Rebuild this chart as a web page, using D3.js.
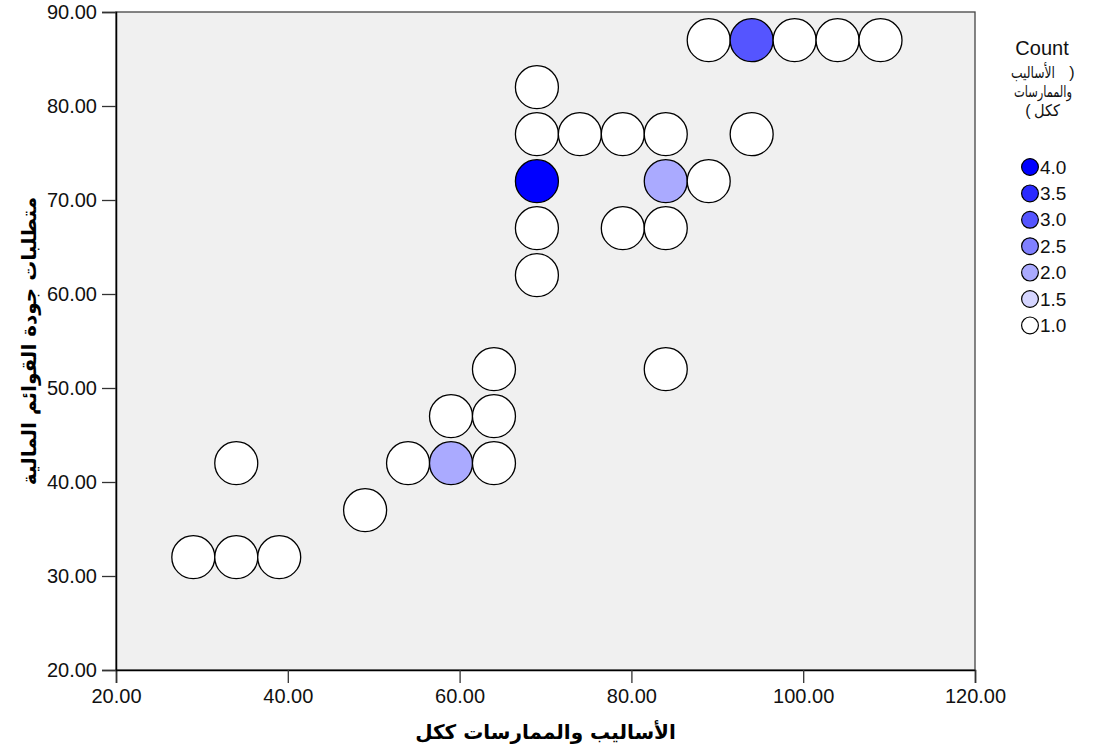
<!DOCTYPE html>
<html>
<head>
<meta charset="utf-8">
<script src="https://cdn.jsdelivr.net/npm/d3@7"></script>
<style>
  body { margin: 0; background: #ffffff; }
  text { font-family: Arial, "Liberation Sans", "DejaVu Sans", sans-serif; }
</style>
</head>
<body>
<div id="myData"></div>
<script>
// data (x = whole practices score, y = statement quality score)
var xValues = [89, 94, 99, 104, 109, 69, 69, 74, 79, 84, 94, 69, 84, 89, 69, 79, 84, 69, 64, 84, 59, 64, 34, 54, 59, 64, 49, 29, 34, 39];
var yValues = [87, 87, 87, 87, 87, 82, 77, 77, 77, 77, 77, 72, 72, 72, 67, 67, 67, 62, 52, 52, 47, 47, 42, 42, 42, 42, 37, 32, 32, 32];
var counts  = [1, 3, 1, 1, 1, 1, 1, 1, 1, 1, 1, 4, 2, 1, 1, 1, 1, 1, 1, 1, 1, 1, 1, 1, 2, 1, 1, 1, 1, 1];

var xTicks = [20, 40, 60, 80, 100, 120];
var yTicks = [20, 30, 40, 50, 60, 70, 80, 90];
var legendValues = [4.0, 3.5, 3.0, 2.5, 2.0, 1.5, 1.0];

var xTitle = "الأساليب والممارسات ككل";
var yTitle = "متطلبات جودة القوائم المالية";
var legendTitle = "Count";
// "(الأساليب والممارسات ككل)" wrapped on three lines; brackets drawn on their own
var legendWords = ["الأساليب", "والممارسات", "ككل"];

var points = xValues.map(function(d, i) {
  return { x: d, y: yValues[i], count: counts[i] };
});

// plot area
var margin = {top: 12, right: 136, bottom: 82, left: 116},
    width = 1111 - margin.left - margin.right,
    height = 752 - margin.top - margin.bottom;

var svg = d3.select("#myData")
  .append("svg")
  .attr("width", 1111)
  .attr("height", 752);

var g = svg.append("g")
  .attr("transform", "translate(" + margin.left + "," + margin.top + ")");

var x = d3.scaleLinear().domain([20, 120]).range([0, width]);
var y = d3.scaleLinear().domain([20, 90]).range([height, 0]);

// colour by count, white -> blue
var color = d3.scaleLinear().domain([1, 4]).range(["#ffffff", "#0000ff"]);

g.append("rect")
  .attr("width", width)
  .attr("height", height)
  .attr("fill", "#f0f0f0")
  .attr("stroke", "#444")
  .attr("stroke-width", 1.3);

// axes
var xAxis = g.append("g")
  .attr("transform", "translate(0," + height + ")")
  .call(d3.axisBottom(x).tickValues(xTicks).tickFormat(d3.format(".2f")).tickSize(13).tickPadding(6));

var yAxis = g.append("g")
  .call(d3.axisLeft(y).tickValues(yTicks).tickFormat(d3.format(".2f")).tickSize(14).tickPadding(5));

[xAxis, yAxis].forEach(function(a) {
  a.select(".domain").attr("stroke", "#000").attr("stroke-width", 1.5);
  a.selectAll(".tick line").attr("stroke", "#333").attr("stroke-width", 1.3);
  a.selectAll(".tick text")
    .attr("fill", "#111")
    .style("font-size", "20px")
    .style("font-family", "Arial, 'Liberation Sans', sans-serif");
});

// bubbles
g.append("g")
  .selectAll("circle")
  .data(points)
  .enter()
  .append("circle")
    .attr("cx", function(d) { return x(d.x); })
    .attr("cy", function(d) { return y(d.y); })
    .attr("r", 21.5)
    .attr("fill", function(d) { return color(d.count); })
    .attr("stroke", "#000")
    .attr("stroke-width", 1.3);

// axis titles
svg.append("text")
  .attr("x", margin.left + width / 2)
  .attr("y", 739)
  .attr("text-anchor", "middle")
  .style("font-size", "20px")
  .style("font-weight", "bold")
  .style("font-family", "'DejaVu Sans', sans-serif")
  .text(xTitle);

svg.append("text")
  .attr("transform", "rotate(-90)")
  .attr("x", -(margin.top + height / 2))
  .attr("y", 29)
  .attr("text-anchor", "middle")
  .attr("dominant-baseline", "central")
  .style("font-size", "20px")
  .style("font-weight", "bold")
  .style("font-family", "'DejaVu Sans', sans-serif")
  .text(yTitle);

// legend
var legend = svg.append("g");

legend.append("text")
  .attr("x", 1042)
  .attr("y", 55)
  .attr("text-anchor", "middle")
  .style("font-size", "20px")
  .style("fill", "#111")
  .text(legendTitle);

// word centres / widths of the wrapped subtitle
var wordX = [1033, 1043, 1047];
var wordW = [44, 58, 26];

legend.selectAll("subtitle")
  .data(legendWords)
  .enter()
  .append("text")
    .attr("x", function(d, i) { return wordX[i]; })
    .attr("y", function(d, i) { return 78 + i * 19; })
    .attr("text-anchor", "middle")
    .attr("textLength", function(d, i) { return wordW[i]; })
    .attr("lengthAdjust", "spacingAndGlyphs")
    .style("font-size", "16px")
    .style("font-family", "'DejaVu Sans', sans-serif")
    .style("fill", "#111")
    .text(function(d) { return d; });

// opening bracket on the right of line one, closing bracket on the left of line three
legend.append("text")
  .attr("x", 1072)
  .attr("y", 78)
  .attr("text-anchor", "middle")
  .style("font-size", "16px")
  .style("fill", "#111")
  .text(")");

legend.append("text")
  .attr("x", 1028)
  .attr("y", 116)
  .attr("text-anchor", "middle")
  .style("font-size", "16px")
  .style("fill", "#111")
  .text("(");

var step = 26.4;

legend.selectAll("legendDot")
  .data(legendValues)
  .enter()
  .append("circle")
    .attr("cx", 1030)
    .attr("cy", function(d, i) { return 167 + i * step; })
    .attr("r", 8.4)
    .attr("fill", function(d) { return color(d); })
    .attr("stroke", "#000")
    .attr("stroke-width", 1.2);

legend.selectAll("legendLabel")
  .data(legendValues)
  .enter()
  .append("text")
    .attr("x", 1040)
    .attr("y", function(d, i) { return 167 + i * step; })
    .attr("dominant-baseline", "central")
    .style("font-size", "19px")
    .style("fill", "#111")
    .text(function(d) { return d3.format(".1f")(d); });
</script>
</body>
</html>
